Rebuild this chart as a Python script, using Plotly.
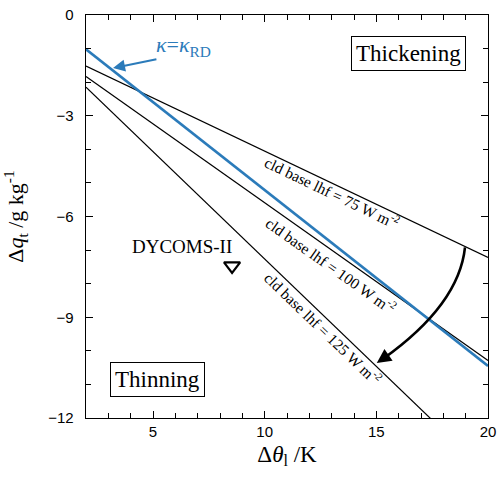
import plotly.graph_objects as go

# ---- data ----
theta_ends = [2, 20]                 # Δθ_l (K) at the two ends of each line
kappa_rd = [-1.02, -10.45]           # κ = κ_RD line
lhf_75 = [-1.52, -7.22]              # cld base lhf = 75 W m-2
lhf_100 = [-1.83, -10.29]            # cld base lhf = 100 W m-2
lhf_125 = [-2.15, -13.66]            # cld base lhf = 125 W m-2
dycoms_theta = [8.54]
dycoms_q = [-7.47]

x_tick_step = 5
y_tick_step = 3

BLUE = "#2b7bba"
SERIF = "Liberation Serif"
SANS = "Liberation Sans"

fig = go.Figure()

for ys in (lhf_75, lhf_100, lhf_125):
    fig.add_trace(go.Scatter(x=theta_ends, y=ys, mode="lines",
                             line=dict(color="black", width=1.2),
                             showlegend=False, hoverinfo="skip"))

fig.add_trace(go.Scatter(x=theta_ends, y=kappa_rd, mode="lines",
                         line=dict(color=BLUE, width=2.6),
                         showlegend=False, hoverinfo="skip"))

fig.add_trace(go.Scatter(x=dycoms_theta, y=dycoms_q, mode="markers",
                         marker=dict(symbol="triangle-down-open", size=14,
                                     color="black", line=dict(width=2.2, color="black")),
                         showlegend=False, hoverinfo="skip"))

# curved arrow (quadratic bezier) from lhf 75 line to lhf 125 line
fig.add_shape(type="path", xref="x", yref="y",
              path="M 18.97,-6.92 Q 18.70,-8.63 15.30,-10.24",
              line=dict(color="black", width=2.6))

annotations = [
    dict(x=15.02, y=-10.36, ax=15.54, ay=-10.12, xref="x", yref="y",
         axref="x", ayref="y", text="", showarrow=True, arrowhead=2,
         arrowsize=1.1, arrowwidth=2.6, arrowcolor="black", standoff=0),
    dict(x=3.21, y=-1.58, ax=5.22, ay=-1.31, xref="x", yref="y",
         axref="x", ayref="y", text="", showarrow=True, arrowhead=2,
         arrowsize=1.2, arrowwidth=2, arrowcolor=BLUE, standoff=0),
    dict(x=6.36, y=-0.92, xref="x", yref="y", showarrow=False,
         text="<i>κ</i>=<i>κ</i><sub>RD</sub>",
         font=dict(family=SERIF, size=22, color=BLUE)),
    dict(x=13.02, y=-5.27, xref="x", yref="y", showarrow=False, textangle=25.6,
         text="cld base lhf = 75 W m<sup>-2</sup>",
         font=dict(family=SERIF, size=15.5, color="black")),
    dict(x=12.97, y=-7.44, xref="x", yref="y", showarrow=False, textangle=35.3,
         text="cld base lhf = 100 W m<sup>-2</sup>",
         font=dict(family=SERIF, size=15.5, color="black")),
    dict(x=12.61, y=-9.32, xref="x", yref="y", showarrow=False, textangle=43.9,
         text="cld base lhf = 125 W m<sup>-2</sup>",
         font=dict(family=SERIF, size=15.5, color="black")),
    dict(x=16.42, y=-1.16, xref="x", yref="y", showarrow=False,
         text="Thickening", font=dict(family=SERIF, size=23, color="black"),
         bordercolor="black", borderwidth=1, borderpad=4, bgcolor="white"),
    dict(x=5.22, y=-10.86, xref="x", yref="y", showarrow=False,
         text="Thinning", font=dict(family=SERIF, size=23, color="black"),
         bordercolor="black", borderwidth=1, borderpad=4, bgcolor="white"),
    dict(x=6.30, y=-6.90, xref="x", yref="y", showarrow=False,
         text="DYCOMS-II", font=dict(family=SERIF, size=19, color="black")),
]

fig.update_layout(width=501, height=479, margin=dict(l=86, r=13, t=15, b=61),
                  plot_bgcolor="white", paper_bgcolor="white",
                  annotations=annotations)

fig.update_xaxes(range=[2, 20], dtick=x_tick_step,
                 ticks="inside", ticklen=7, tickwidth=1, tickcolor="black",
                 showline=True, linecolor="black", mirror="ticks",
                 minor=dict(ticks="inside", ticklen=5, dtick=1, tickcolor="black"),
                 tickfont=dict(family=SANS, size=15, color="black"),
                 automargin=False,
                 title=dict(text="Δ<i>θ</i><sub>l</sub> /K", standoff=6,
                            font=dict(family=SERIF, size=23, color="black")))
fig.update_yaxes(range=[-12, 0], dtick=y_tick_step, ticksuffix="\u00a0\u00a0",
                 ticks="inside", ticklen=7, tickwidth=1, tickcolor="black",
                 showline=True, linecolor="black", mirror="ticks",
                 minor=dict(ticks="inside", ticklen=5, dtick=1, tickcolor="black"),
                 tickfont=dict(family=SANS, size=15, color="black"),
                 automargin=False,
                 title=dict(text="Δ<i>q</i><sub>t</sub> /g kg<sup>-1</sup>", standoff=18,
                            font=dict(family=SERIF, size=22, color="black")))

fig.write_html("out.html")
